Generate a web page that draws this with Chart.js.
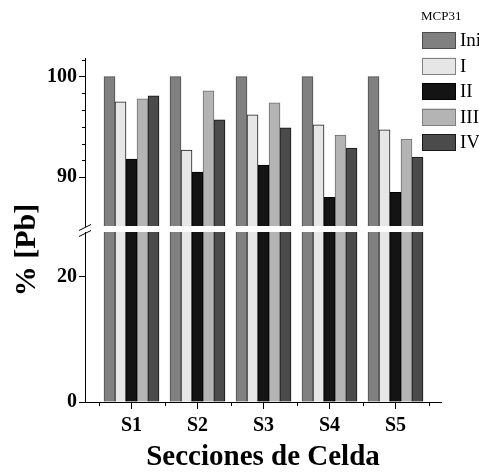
<!DOCTYPE html>
<html>
<head>
<meta charset="utf-8">
<script src="https://cdn.jsdelivr.net/npm/chart.js@4.4.1/dist/chart.umd.min.js"></script>
<style>
  html, body { margin: 0; padding: 0; background: #fff; }
  #wrap { width: 479px; height: 476px; }
</style>
</head>
<body>
<div id="wrap"><canvas id="chart" width="479" height="476"></canvas></div>
<script>
// --- data ---
const categories = ['S1', 'S2', 'S3', 'S4', 'S5'];
const seriesNames = ['Ini', 'I', 'II', 'III', 'IV'];
const valuesIni = [100, 100, 100, 100, 100];
const valuesI   = [97.5, 92.7, 96.2, 95.2, 94.7];
const valuesII  = [91.8, 90.5, 91.2, 88.0, 88.5];
const valuesIII = [97.8, 98.6, 97.4, 94.2, 93.8];
const valuesIV  = [98.1, 95.7, 94.9, 92.9, 92.0];
const upperTicks = [90, 100];
const lowerTicks = [0, 20];
const legendTitle = 'MCP31';
const xTitle = 'Secciones de Celda';
const yTitle = '% [Pb]';

const seriesValues = [valuesIni, valuesI, valuesII, valuesIII, valuesIV];
const fills   = ['#808080', '#e6e6e6', '#141414', '#b4b4b4', '#4b4b4b'];
const borders = ['#4d4d4d', '#1e1e1e', '#000000', '#6e6e6e', '#141414'];
const legendBorders = ['#4d4d4d', '#808080', '#000000', '#808080', '#1a1a1a'];

const FONT = '"Liberation Serif", "Times New Roman", serif';

// 66 px per category, bars land on whole pixels
const PX_PER_CAT = 66;
const X_MIN = 1 - 46.5 / PX_PER_CAT;
const X_MAX = 1 + 309.5 / PX_PER_CAT;

// each half of the broken axis only shows its own part of the bars
const clipToOwnScale = {
    id: 'clipToOwnScale',
    beforeDatasetDraw(chart, args) {
        const ys = chart.scales[args.meta.yAxisID];
        const area = chart.chartArea;
        const ctx = chart.ctx;
        ctx.save();
        ctx.beginPath();
        ctx.rect(area.left, ys.top, area.right - area.left, ys.bottom - ys.top);
        ctx.clip();
    },
    afterDatasetDraw(chart) {
        chart.ctx.restore();
    }
};

// minor ticks, axis break marks and the rotated y title
const axisExtras = {
    id: 'axisExtras',
    afterDraw(chart) {
        const ctx = chart.ctx;
        const yTop = chart.scales.yTop;
        const yGap = chart.scales.yGap;
        const xs = chart.scales.x;
        const left = chart.chartArea.left;

        ctx.save();
        ctx.strokeStyle = '#000';
        ctx.lineWidth = 1;
        ctx.beginPath();

        const step = (upperTicks[1] - upperTicks[0]) / 6;
        for (let k = -6; k <= 6; k++) {
            if (k % 6 === 0) continue;
            const v = upperTicks[1] + k * step;
            if (v < yTop.min || v > yTop.max) continue;
            const py = Math.round(yTop.getPixelForValue(v)) + 0.5;
            ctx.moveTo(left - 3, py);
            ctx.lineTo(left, py);
        }

        for (let i = 0; i <= categories.length; i++) {
            const px = Math.round(xs.getPixelForValue(i + 0.5)) + 0.5;
            ctx.moveTo(px, xs.top);
            ctx.lineTo(px, xs.top + 4);
        }

        [yGap.top + 1.5, yGap.bottom + 1.5].forEach(y => {
            ctx.moveTo(left - 6, y + 3);
            ctx.lineTo(left + 6, y - 3);
        });
        ctx.stroke();

        ctx.fillStyle = '#000';
        ctx.font = 'bold 30px ' + FONT;
        ctx.textAlign = 'center';
        ctx.textBaseline = 'middle';
        ctx.translate(27, 250);
        ctx.rotate(-Math.PI / 2);
        ctx.fillText(yTitle, 0, 0);
        ctx.restore();
    }
};

// floating legend in the top right corner
const cornerLegend = {
    id: 'cornerLegend',
    afterDraw(chart, args, opts) {
        const ctx = chart.ctx;
        ctx.save();
        ctx.fillStyle = '#000';
        ctx.textBaseline = 'middle';
        ctx.textAlign = 'left';
        ctx.font = '13px ' + FONT;
        ctx.fillText(legendTitle, opts.x - 1, opts.y - 15);

        ctx.font = '19px ' + FONT;
        const items = chart.data.datasets.filter(d => d.yAxisID === 'yTop');
        items.forEach((ds, i) => {
            const top = opts.y + i * opts.spacing;
            ctx.fillStyle = ds.backgroundColor;
            ctx.fillRect(opts.x, top, opts.boxW, opts.boxH);
            ctx.strokeStyle = legendBorders[i];
            ctx.lineWidth = 1;
            ctx.strokeRect(Math.round(opts.x) + 0.5, Math.round(top) + 0.5, opts.boxW - 1, opts.boxH - 1);
            ctx.fillStyle = '#000';
            ctx.fillText(ds.label, opts.x + opts.boxW + 4, top + opts.boxH / 2 + 1);
        });
        ctx.restore();
    }
};

const datasets = [];
seriesNames.forEach((name, s) => {
    const points = categories.map((c, i) => ({ x: i + 1, y: seriesValues[s][i] }));
    ['yTop', 'y'].forEach(axisId => {
        datasets.push({
            label: name,
            data: points,
            yAxisID: axisId,
            stack: name,
            backgroundColor: fills[s],
            borderColor: borders[s],
            borderWidth: 1,
            barThickness: 11
        });
    });
});

const fixedWidth = w => scale => { scale.width = w; };

new Chart(document.getElementById('chart').getContext('2d'), {
    type: 'bar',
    data: { datasets: datasets },
    plugins: [clipToOwnScale, axisExtras, cornerLegend],
    options: {
        responsive: false,
        animation: false,
        devicePixelRatio: 1,
        layout: { padding: { top: 58, right: 38, left: 0, bottom: 0 } },
        plugins: {
            legend: { display: false },
            tooltip: { enabled: false },
            cornerLegend: { x: 422, y: 32, boxW: 34, boxH: 17, spacing: 25.5 }
        },
        scales: {
            x: {
                type: 'linear',
                min: X_MIN,
                max: X_MAX,
                offset: false,
                afterBuildTicks: scale => {
                    scale.ticks = categories.map((c, i) => ({ value: i + 1 }));
                },
                afterFit: scale => { scale.height = 74; },
                ticks: {
                    color: '#000',
                    padding: 5,
                    font: { family: FONT, size: 20, weight: 'bold' },
                    callback: v => categories[Math.round(v) - 1]
                },
                grid: { display: true, drawOnChartArea: false, offset: false, tickLength: 7, tickColor: '#000' },
                border: { display: true, color: '#000', width: 1 },
                title: {
                    display: true,
                    text: xTitle,
                    color: '#000',
                    padding: { top: 0, bottom: 1 },
                    font: { family: FONT, size: 29, weight: 'bold' }
                }
            },
            y: {
                type: 'linear',
                position: 'left',
                stack: 'broken',
                stackWeight: 170,
                stacked: false,
                min: 0,
                max: 27.1,
                afterBuildTicks: scale => { scale.ticks = lowerTicks.map(v => ({ value: v })); },
                afterFit: fixedWidth(85),
                ticks: { color: '#000', padding: 2, font: { family: FONT, size: 20, weight: 'bold' } },
                grid: { display: true, drawOnChartArea: false, tickLength: 6, tickColor: '#000' },
                border: { display: true, color: '#000', width: 1 }
            },
            yGap: {
                type: 'linear',
                position: 'left',
                stack: 'broken',
                stackWeight: 6,
                afterFit: fixedWidth(85),
                ticks: { display: false },
                grid: { display: false },
                border: { display: false }
            },
            yTop: {
                type: 'linear',
                position: 'left',
                stack: 'broken',
                stackWeight: 168,
                stacked: false,
                min: 85.14,
                max: 101.86,
                afterBuildTicks: scale => { scale.ticks = upperTicks.map(v => ({ value: v })); },
                afterFit: fixedWidth(85),
                ticks: { color: '#000', padding: 2, font: { family: FONT, size: 20, weight: 'bold' } },
                grid: { display: true, drawOnChartArea: false, tickLength: 6, tickColor: '#000' },
                border: { display: true, color: '#000', width: 1 }
            }
        }
    }
});
</script>
</body>
</html>
